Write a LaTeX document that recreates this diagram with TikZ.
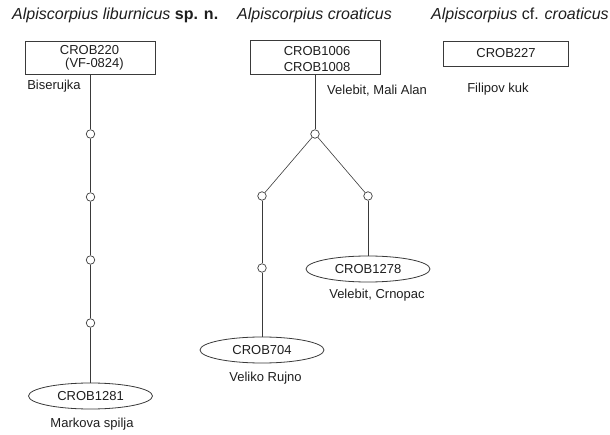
\documentclass[tikz,border=0pt]{standalone}
\usepackage{fontspec}
\setmainfont{Liberation Sans}
\usetikzlibrary{shapes.geometric}
\definecolor{ink}{HTML}{1E1E1E}
\definecolor{wire}{HTML}{3A3A3A}
\tikzset{
  lab/.style={font=\fontsize{13}{15}\selectfont, text=ink, inner sep=0pt},
  ttl/.style={font=\fontsize{16}{19}\selectfont\itshape, text=ink, inner sep=0pt, anchor=base west},
  recbox/.style={draw=wire, line width=0.8pt, rectangle, inner sep=0pt},
  oval/.style={draw=wire, line width=0.8pt, ellipse, minimum width=124pt, minimum height=26pt, inner sep=0pt, font=\fontsize{13}{15}\selectfont, text=ink},
  dot/.style={draw=wire, fill=white, line width=0.7pt, circle, minimum size=8.5pt, inner sep=0pt},
  wirel/.style={draw=wire, line width=0.6pt}
}
\begin{document}
\begin{tikzpicture}[x=1pt, y=-1pt]
\useasboundingbox (0,0) rectangle (610,435);
% titles
\node[ttl] (t1) at (12,20) {Alpiscorpius liburnicus \upshape\bfseries sp. n.};
\node[ttl] (t2) at (237,20) {Alpiscorpius croaticus};
\node[ttl] (t3) at (431,20) {Alpiscorpius \upshape cf. \itshape croaticus};
% liburnicus
\node[recbox, minimum width=130pt, minimum height=33pt] (b220) at (90,58) {};
\node[lab] (l220a) at (89.5,50) {CROB220};
\node[lab] (l220b) at (94.5,64) {(VF-0824)};
\node[lab] (biser) at (54,86.5) {Biserujka};
\node[dot] (c1) at (90.5,134) {};
\node[dot] (c2) at (90.5,197) {};
\node[dot] (c3) at (90.5,260) {};
\node[dot] (c4) at (90.5,323) {};
\node[oval] (e1281) at (90.5,396) {CROB1281};
\node[lab] (marko) at (92,424) {Markova spilja};
\draw[wirel] (b220.south -| c1) -- (c1);
\draw[wirel] (c1) -- (c2);
\draw[wirel] (c2) -- (c3);
\draw[wirel] (c3) -- (c4);
\draw[wirel] (c4) -- (e1281);
% croaticus
\node[recbox, minimum width=130pt, minimum height=34pt] (b1006) at (315,57.5) {};
\node[lab] (l1006) at (317,51.5) {CROB1006};
\node[lab] (l1008) at (317,67.5) {CROB1008};
\node[lab, anchor=west] (mali) at (327,91) {Velebit, Mali Alan};
\node[dot] (n0) at (315,134) {};
\node[dot] (nl) at (262,196) {};
\node[dot] (nr) at (368,196) {};
\node[dot] (nl2) at (262,268) {};
\node[oval] (e704) at (262,350) {CROB704};
\node[lab] (rujno) at (265.5,378) {Veliko Rujno};
\node[oval] (e1278) at (368,269) {CROB1278};
\node[lab] (crno) at (377,295) {Velebit, Crnopac};
\draw[wirel] (b1006.south -| n0) -- (n0);
\draw[wirel] (n0) -- (nl);
\draw[wirel] (n0) -- (nr);
\draw[wirel] (nl) -- (nl2);
\draw[wirel] (nl2) -- (e704);
\draw[wirel] (nr) -- (e1278);
% cf. croaticus
\node[recbox, minimum width=125pt, minimum height=25pt] (b227) at (505.5,53.5) {};
\node[lab] (l227) at (506,53.5) {CROB227};
\node[lab] (filip) at (498,89) {Filipov kuk};
\end{tikzpicture}
\end{document}
